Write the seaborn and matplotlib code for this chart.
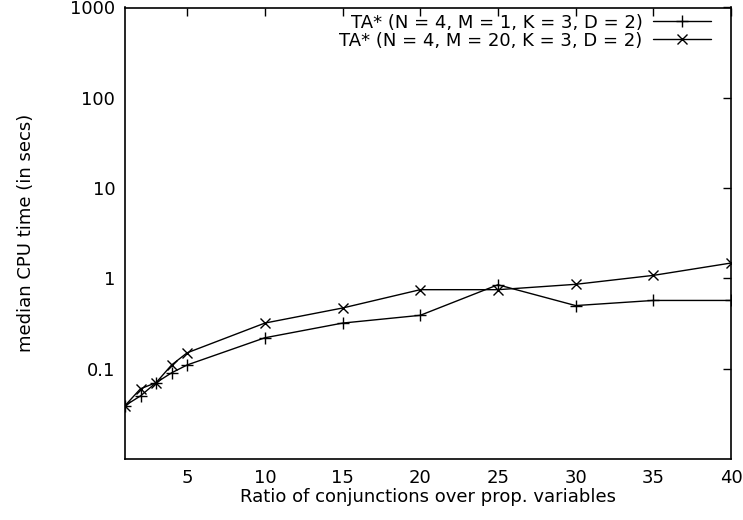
import matplotlib
matplotlib.use("Agg")
import matplotlib.pyplot as plt
import seaborn as sns
import pandas as pd

ratios = [1, 2, 3, 4, 5, 10, 15, 20, 25, 30, 35, 40]
m1_times = [0.039, 0.05, 0.07, 0.09, 0.11, 0.22, 0.32, 0.39, 0.85, 0.50, 0.57, 0.57]
m20_times = [0.039, 0.06, 0.07, 0.11, 0.15, 0.32, 0.47, 0.75, 0.75, 0.86, 1.08, 1.48]
label_m1 = "TA* (N = 4, M = 1, K = 3, D = 2)"
label_m20 = "TA* (N = 4, M = 20, K = 3, D = 2)"
xticks = [5, 10, 15, 20, 25, 30, 35, 40]
yticks = [0.1, 1, 10, 100, 1000]
ytick_labels = ["0.1", "1", "10", "100", "1000"]

sns.set_style("white")
plt.rcParams['font.family'] = ['DejaVu Sans']
plt.rcParams['text.color'] = 'black'
plt.rcParams['axes.labelcolor'] = 'black'

df1 = pd.DataFrame({"ratio": ratios, "time": m1_times})
df2 = pd.DataFrame({"ratio": ratios, "time": m20_times})

fig = plt.figure(figsize=(7.43, 5.20), dpi=100)
ax = fig.add_axes([125/743, (520-459)/520, (731-125)/743, (459-7.5)/520])

sns.lineplot(data=df1, x="ratio", y="time", ax=ax, color="black", marker="+",
             markersize=9, markeredgewidth=1, markeredgecolor="black",
             linewidth=1, label=label_m1)
sns.lineplot(data=df2, x="ratio", y="time", ax=ax, color="black", marker="x",
             markersize=7.5, markeredgewidth=1, markeredgecolor="black",
             linewidth=1, label=label_m20)

ax.set_yscale("log")
ax.set_xlim(1, 40)
ax.set_ylim(0.01, 1000)
ax.set_xticks(xticks)
ax.set_xticklabels([str(t) for t in xticks])
ax.set_yticks(yticks)
ax.set_yticklabels(ytick_labels)
ax.minorticks_off()
ax.tick_params(direction="in", length=6, width=1, top=True, right=True,
               labelsize=13, pad=7, colors="black")
for s in ax.spines.values():
    s.set_color("black")
    s.set_linewidth(1.2)

ax.set_xlabel("Ratio of conjunctions over prop. variables", fontsize=13, labelpad=1)
ax.set_ylabel("median CPU time (in secs)", fontsize=13, labelpad=25)

leg = ax.legend(loc="upper right", frameon=False, markerfirst=False, fontsize=13,
                handlelength=3.2, handletextpad=0.6, borderaxespad=0.2,
                labelspacing=0.0, bbox_to_anchor=(0.985, 1.01))
for t in leg.get_texts():
    t.set_color("black")

fig.savefig("out.png", dpi=100)
